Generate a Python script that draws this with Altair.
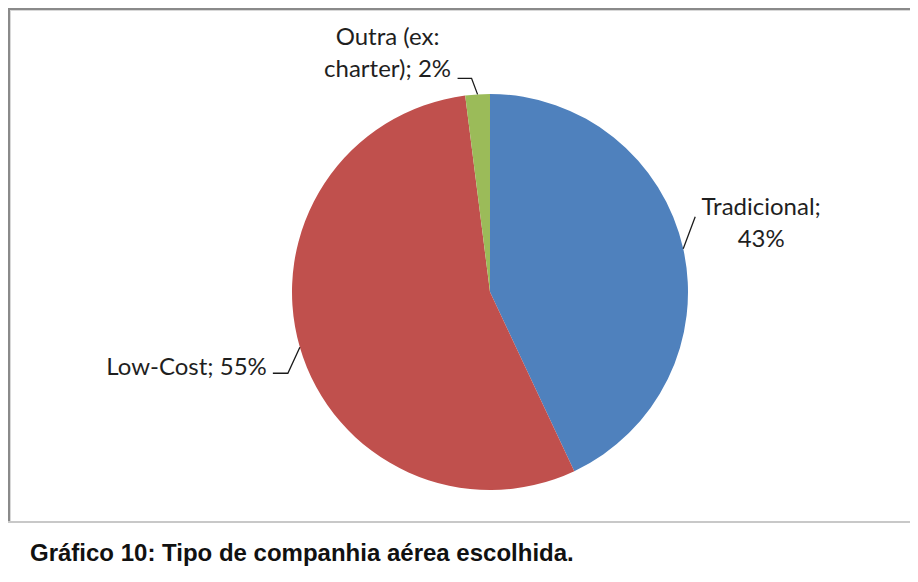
import math
import altair as alt
import pandas as pd

# ---- data ----
categories = ["Tradicional", "Low-Cost", "Outra (ex: charter)"]
values = [43, 55, 2]
label_texts = ["Tradicional;\n43%", "Low-Cost; 55%", "Outra (ex:\ncharter); 2%"]
colors = ["#4F81BD", "#C0504D", "#9BBB59"]
caption = "Gráfico 10: Tipo de companhia aérea escolhida."

# ---- layout (pixels, chart coordinates) ----
W, H = 902, 566
CX, CY, R = 482, 284, 198
elbow_off = [(12, -32), (-12, 26), (-6, -16)]
stub_len = [0, -15, -14]
label_off = [(66, -2), (-6, 2), (-70, -33)]
label_align = ["center", "right", "center"]

total = sum(values)
pie_df = pd.DataFrame({"cat": categories, "value": values, "order": list(range(len(values)))})

line_rows, label_rows = [], []
cum = 0
for i, (c, v) in enumerate(zip(categories, values)):
    mid = (cum + v / 2) / total * 2 * math.pi
    cum += v
    x0 = CX + R * math.sin(mid)
    y0 = CY - R * math.cos(mid)
    x1, y1 = x0 + elbow_off[i][0], y0 + elbow_off[i][1]
    x2, y2 = x1 + stub_len[i], y1
    for j, (px, py) in enumerate([(x0, y0), (x1, y1), (x2, y2)]):
        line_rows.append({"cat": c, "i": j, "x": px, "y": py})
    label_rows.append({"cat": c, "text": label_texts[i], "align": label_align[i],
                       "x": x2 + label_off[i][0], "y": y2 + label_off[i][1]})
line_df = pd.DataFrame(line_rows)
label_df = pd.DataFrame(label_rows)

pie = alt.Chart(pie_df).mark_arc(radius=R).encode(
    x=alt.value(CX), y=alt.value(CY),
    theta=alt.Theta("value:Q", stack=True),
    order=alt.Order("order:Q"),
    color=alt.Color("cat:N", scale=alt.Scale(domain=categories, range=colors), legend=None),
)

leaders = alt.Chart(line_df).mark_line(color="#1a1a1a", strokeWidth=1.3).encode(
    x=alt.X("x:Q", scale=None, axis=None),
    y=alt.Y("y:Q", scale=None, axis=None),
    detail="cat:N",
    order="i:Q",
)

def label_layer(al):
    return alt.Chart(label_df).transform_filter(alt.datum.align == al).mark_text(
        align=al, baseline="alphabetic", font="Lato", fontSize=24, color="#1f1f1f",
        lineBreak="\n", lineHeight=32,
    ).encode(
        x=alt.X("x:Q", scale=None, axis=None),
        y=alt.Y("y:Q", scale=None, axis=None),
        text="text:N",
    )

frame_top = alt.Chart(pie_df).mark_rule(color="#8a8a8a", strokeWidth=2).encode(
    x=alt.value(0), x2=alt.value(W), y=alt.value(1))
frame_left = alt.Chart(pie_df).mark_rule(color="#8a8a8a", strokeWidth=2).encode(
    x=alt.value(1), y=alt.value(0), y2=alt.value(514))
frame_top_in = alt.Chart(pie_df).mark_rule(color="#d8d8d8", strokeWidth=1).encode(
    x=alt.value(2), x2=alt.value(W), y=alt.value(2.5))
frame_left_in = alt.Chart(pie_df).mark_rule(color="#d8d8d8", strokeWidth=1).encode(
    x=alt.value(2.5), y=alt.value(2), y2=alt.value(513))
bottom_line = alt.Chart(pie_df).mark_rule(color="#c8c8c8", strokeWidth=2).encode(
    x=alt.value(0), x2=alt.value(W), y=alt.value(514))

cap = alt.Chart(pd.DataFrame({"t": [caption]})).mark_text(
    align="left", baseline="alphabetic", font="Liberation Sans", fontWeight="bold",
    fontSize=24, color="#111111",
).encode(x=alt.value(22), y=alt.value(553), text="t:N")

chart = alt.layer(
    pie, leaders, label_layer("center"), label_layer("right"),
    frame_top, frame_left, frame_top_in, frame_left_in, bottom_line, cap,
).properties(
    width=W, height=H, padding=0, autosize=alt.AutoSizeParams(type="none"),
    background="white",
).configure_view(stroke=None)

chart.save("out.html", embed_options={"renderer": "svg", "actions": False})
